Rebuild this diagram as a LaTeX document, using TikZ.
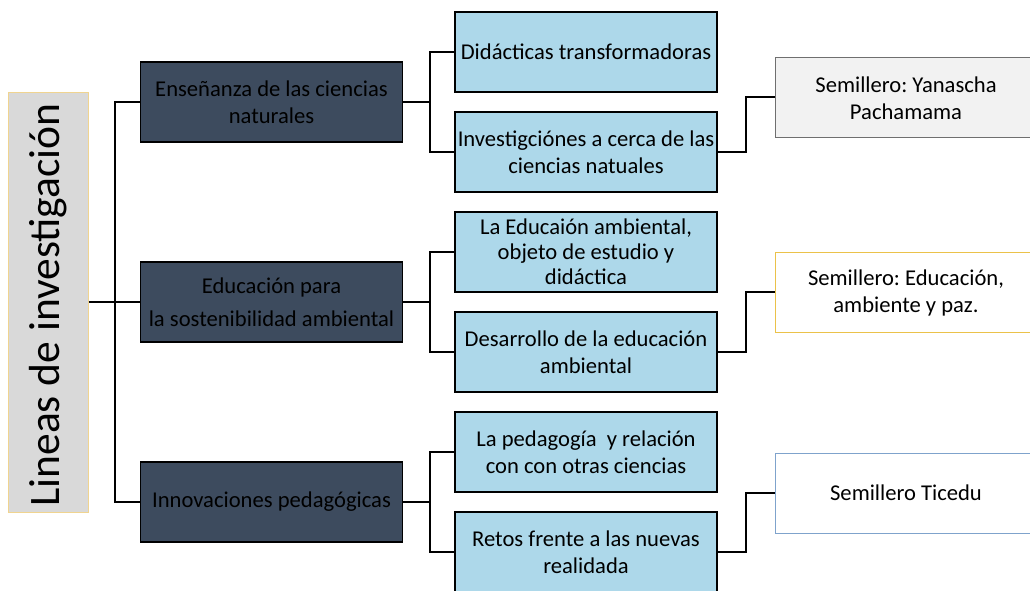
\documentclass[tikz,border=0pt]{standalone}
\usepackage{fontspec}
\setmainfont{Carlito}
\definecolor{darkslate}{HTML}{3D4B5E}
\definecolor{lblue}{HTML}{ADD8EA}
\definecolor{lgray}{HTML}{D9D9D9}
\definecolor{lgold}{HTML}{F0D490}
\definecolor{gold}{HTML}{EBC24A}
\definecolor{steel}{HTML}{7FA3CC}
\definecolor{pale}{HTML}{F2F2F2}
\definecolor{midgray}{HTML}{6F6F6F}
\begin{document}
\frenchspacing
\begin{tikzpicture}[x=1pt,y=-1pt,
  base/.style={rectangle, inner sep=0pt, align=center,
    minimum width=262pt, minimum height=80pt,
    font=\fontsize{22.6pt}{27pt}\selectfont},
  darkbox/.style={base, fill=darkslate, draw=black, line width=1.2pt, text=black},
  bluebox/.style={base, fill=lblue, draw=black, line width=1.2pt},
  semibox/.style={rectangle, inner sep=0pt, minimum width=270pt, minimum height=80pt, line width=1pt},
  semitext/.style={align=center, inner sep=0pt, font=\fontsize{22.6pt}{27pt}\selectfont},
  conn/.style={draw=black, line width=1.1pt}
]
\useasboundingbox (0,0) rectangle (1030,590);
\begin{scope}
\clip (0,0) rectangle (1030,590);
% left title box
\node[rectangle, fill=lgray, draw=lgold, line width=1pt, minimum width=80pt, minimum height=420pt,
  inner sep=0pt] (title) at (48,302) {};
\node[rotate=90, font=\fontsize{43.5pt}{48pt}\selectfont] (titletext) at (48,305) {Lineas de investigación};

% dark boxes
\node[darkbox] (d1) at (271.5,102) {Enseñanza de las ciencias\\naturales};
\node[darkbox] (d2) at (271.5,302) {Educación para\\[6pt]la sostenibilidad ambiental};
\node[darkbox] (d3) at (271.5,502) {Innovaciones pedagógicas};

% blue boxes
\node[bluebox] (b1) at (586,52) {Didácticas transformadoras};
\node[bluebox] (b2) at (586,152) {Investigciónes a cerca de las\\ciencias natuales};
\node[bluebox] (b3) at (586,252) {La Educaión ambiental,\\[-2pt]objeto de estudio y\\[-2pt]didáctica};
\node[bluebox] (b4) at (586,352) {Desarrollo de la educación\\ambiental};
\node[bluebox] (b5) at (586,452) {La pedagogía\ \ y relación\\con con otras ciencias};
\node[bluebox] (b6) at (586,552) {Retos frente a las nuevas\\realidada};

% semillero boxes
\node[semibox, fill=pale, draw=midgray, anchor=west] (s1) at (775,97) {};
\node[semitext] (s1t) at (906,98) {Semillero: Yanascha\\Pachamama};
\node[semibox, fill=white, draw=gold, anchor=west] (s2) at (775,292) {};
\node[semitext] (s2t) at (906,293) {Semillero: Educación,\\ambiente y paz.};
\node[semibox, fill=white, draw=steel, anchor=west] (s3) at (775,493) {};
\node[semitext] (s3t) at (906,493) {Semillero Ticedu};

% connectors
\coordinate (t1) at (115,0);
\draw[conn] (title.east) -- (title.east -| t1);
\draw[conn] (d1.west) -| (t1 |- title.east);
\draw[conn] (d3.west) -| (t1 |- title.east);
\draw[conn] (d2.west) -- (d2.west -| t1);

\coordinate (t2) at (430,0);
\foreach \d/\u/\l in {d1/b1/b2, d2/b3/b4, d3/b5/b6}{
  \draw[conn] (\d.east) -- (\d.east -| t2);
  \draw[conn] (\u.west) -| (t2 |- \d.east);
  \draw[conn] (\l.west) -| (t2 |- \d.east);
}

\coordinate (t3) at (746,0);
\foreach \b/\s in {b2/s1, b4/s2, b6/s3}{
  \draw[conn] (\b.east) -| (t3 |- \s.west) -- (\s.west);
}
\end{scope}
\end{tikzpicture}
\end{document}
